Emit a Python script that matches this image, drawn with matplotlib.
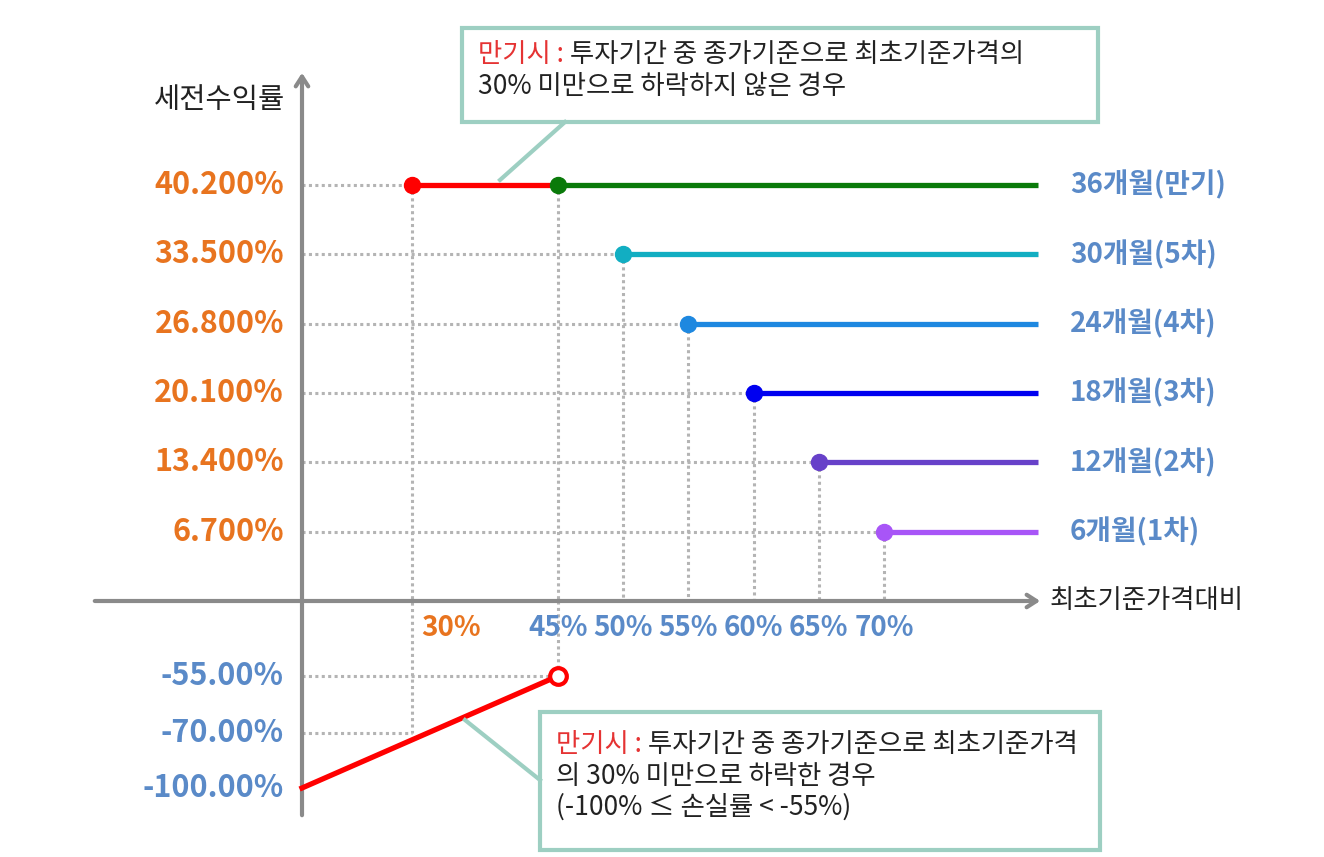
import numpy as np
import matplotlib.pyplot as plt
from matplotlib.transforms import blended_transform_factory
from matplotlib.patches import Rectangle

plt.rcParams['font.family'] = ['Noto Sans CJK KR', 'DejaVu Sans']

W, H = 1324, 857

# Data
periods = ['6개월(1차)', '12개월(2차)', '18개월(3차)', '24개월(4차)', '30개월(5차)', '36개월(만기)']
early_barrier = [70, 65, 60, 55, 50, 45]          # 최초기준가격대비 (%)
coupon = [6.7, 13.4, 20.1, 26.8, 33.5, 40.2]      # 세전수익률 (%)
coupon_labels = ['6.700%', '13.400%', '20.100%', '26.800%', '33.500%', '40.200%']
colors = ['#A855F7', '#6741C9', '#0000F0', '#1E88E0', '#12AEC2', '#0A7A0A']

ki_barrier = 30            # 낙인 배리어
maturity_barrier = 45
loss_x = [0, 45]
loss_y = [-100, -55]
neg_ticks = [-55, -70, -100]
neg_labels = ['-55.00%', '-70.00%', '-100.00%']
x_end = 100

# piecewise scales so the schematic spacing matches the picture
xk_data = [-300, 0, 30, 45, 70, 100, 400]
xk_px = [-798, 302, 412, 558, 884, 1038, 2578]
yk_data = [-500, -100, -70, -55, 0, 40.2, 500]
yk_px = [-663, 69, 124, 181, 256, 672, 5431]


def fx(v):
    return np.interp(v, xk_data, xk_px)


def ix(v):
    return np.interp(v, xk_px, xk_data)


def fy(v):
    return np.interp(v, yk_data, yk_px)


def iy(v):
    return np.interp(v, yk_px, yk_data)


fig = plt.figure(figsize=(W / 100, H / 100), dpi=100)
ax = fig.add_axes([0, 0, 1, 1])
ax.set_xscale('function', functions=(fx, ix))
ax.set_yscale('function', functions=(fy, iy))
ax.set_xlim(ix(0), ix(W))
ax.set_ylim(iy(0), iy(H))
ax.axis('off')


def px(x, y):
    return (x / W, 1 - y / H)


guide = dict(color='#B4B4B4', lw=2.2, ls=(0, (1, 1.1)), zorder=1)

# dotted guides
for b, c in zip(early_barrier, coupon):
    ax.plot([0, b], [c, c], **guide)
    ax.plot([b, b], [c, 0], **guide)
ax.plot([ki_barrier, ki_barrier], [coupon[-1], -70], **guide)
ax.plot([maturity_barrier, maturity_barrier], [0, -55], **guide)
ax.plot([0, maturity_barrier], [-55, -55], **guide)
ax.plot([0, ki_barrier], [-70, -70], **guide)

# axes with arrows
axis_col = '#8A8A8A'
ax.annotate('', xy=(ix(1043), 0), xytext=(ix(92), 0),
            arrowprops=dict(arrowstyle='->,head_length=0.7,head_width=0.45',
                            color=axis_col, lw=3), zorder=2)
ax.annotate('', xy=(0, iy(H - 70)), xytext=(0, iy(H - 818)),
            arrowprops=dict(arrowstyle='->,head_length=0.7,head_width=0.45',
                            color=axis_col, lw=3), zorder=2)

# payoff lines
for b, c, col in zip(early_barrier, coupon, colors):
    ax.plot([b, x_end], [c, c], color=col, lw=3.8, solid_capstyle='butt', zorder=3)
    ax.plot(b, c, 'o', color=col, ms=11.5, zorder=4)
ax.plot([ki_barrier, maturity_barrier], [coupon[-1], coupon[-1]], color='#FF0000', lw=3.8, zorder=3)
ax.plot(ki_barrier, coupon[-1], 'o', color='#FF0000', ms=11.5, zorder=4)
ax.plot(loss_x, loss_y, color='#FF0000', lw=3.8, zorder=3)
ax.plot(loss_x[-1], loss_y[-1], 'o', mfc='white', mec='#FF0000', mew=3, ms=12, zorder=4)

# y labels
ty = blended_transform_factory(ax.transAxes, ax.transData)
orange = '#E8741F'
blue = '#5A8AC8'
for c, lab in zip(coupon, coupon_labels):
    ax.text(284 / W, c, lab, transform=ty, ha='right', va='center',
            fontsize=22, fontweight='bold', color=orange)
for c, lab in zip(neg_ticks, neg_labels):
    ax.text(284 / W, c, lab, transform=ty, ha='right', va='center',
            fontsize=22, fontweight='bold', color=blue)
for c, lab in zip(coupon, periods):
    ax.text(1070 / W, c, lab, transform=ty, ha='left', va='center',
            fontsize=20, fontweight='bold', color=blue)

# x labels
tx = blended_transform_factory(ax.transData, ax.transAxes)
ax.annotate(f'{ki_barrier}%', xy=(ki_barrier, 1 - 628 / H), xycoords=tx,
            xytext=(7, 0), textcoords='offset points', ha='left', va='center',
            fontsize=20, fontweight='bold', color=orange)
for b in sorted(early_barrier):
    ax.text(b, 1 - 628 / H, f'{b}%', transform=tx, ha='center', va='center',
            fontsize=20, fontweight='bold', color=blue)

ax.text(*px(285, 100), '세전수익률', transform=ax.transAxes, ha='right', va='center',
        fontsize=20.5, color='#222222')
ax.text(*px(1050, 600), '최초기준가격대비', transform=ax.transAxes, ha='left', va='center',
        fontsize=19, color='#222222')

# callout boxes
box_col = '#9DCFC2'
ax.add_patch(Rectangle(px(462, 122), 636 / W, 94 / H, transform=ax.transAxes,
                       fill=False, ec=box_col, lw=3, zorder=5))
ax.plot([565 / W, 500 / W], [1 - 122 / H, 1 - 180 / H], transform=ax.transAxes,
        color=box_col, lw=3, zorder=5)
ax.add_patch(Rectangle(px(540, 850), 560 / W, 138 / H, transform=ax.transAxes,
                       fill=False, ec=box_col, lw=3, zorder=5))
ax.plot([465 / W, 540 / W], [1 - 720 / H, 1 - 780 / H], transform=ax.transAxes,
        color=box_col, lw=3, zorder=5)


def callout(x, y, lines):
    head = ax.text(*px(x, y), '만기시 : ', transform=ax.transAxes, ha='left',
                   va='center', fontsize=19, color='#E53333')
    ax.annotate(lines[0], xy=(1, 0.5), xycoords=head, ha='left', va='center',
                fontsize=19, color='#222222')
    for k, line in enumerate(lines[1:], start=1):
        ax.text(*px(x, y + 31 * k), line, transform=ax.transAxes, ha='left',
                va='center', fontsize=19, color='#222222')


callout(478, 55, ['투자기간 중 종가기준으로 최초기준가격의', '30% 미만으로 하락하지 않은 경우'])
callout(556, 745, ['투자기간 중 종가기준으로 최초기준가격', '의 30% 미만으로 하락한 경우',
                   '(-100% ≤ 손실률 < -55%)'])

fig.savefig('out.png', dpi=100)
